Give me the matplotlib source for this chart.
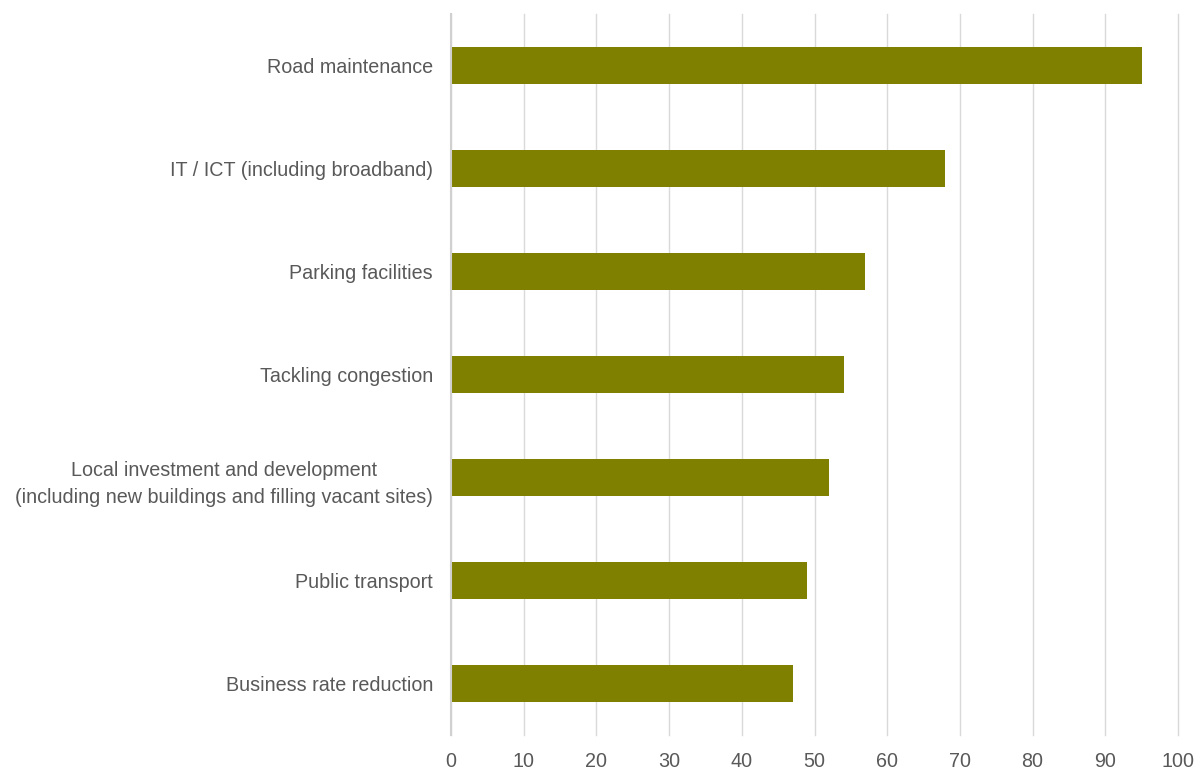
import numpy as np
import matplotlib.pyplot as plt

categories = [
    "Road maintenance",
    "IT / ICT (including broadband)",
    "Parking facilities",
    "Tackling congestion",
    "Local investment and development\n(including new buildings and filling vacant sites)",
    "Public transport",
    "Business rate reduction",
]
values = [95, 68, 57, 54, 52, 49, 47]
x_ticks = list(range(0, 101, 10))

plt.rcParams['font.family'] = ['Liberation Sans', 'DejaVu Sans']

fig = plt.figure(figsize=(11.96, 7.69), dpi=100)
ax = fig.add_axes([451 / 1196, 1 - 735 / 769, (1178 - 451) / 1196, (735 - 14) / 769])

y = np.arange(len(categories))
ax.barh(y, values, height=0.36, color="#808000", zorder=3)

ax.set_xlim(0, 100)
ax.set_ylim(len(categories) - 0.5, -0.5)
ax.set_xticks(x_ticks)
ax.set_yticks(y)
ax.set_yticklabels(categories, multialignment="center", linespacing=1.55)
ax.tick_params(axis="both", length=0, labelsize=14.2, labelcolor="#595959")
ax.tick_params(axis="y", pad=13)
ax.tick_params(axis="x", pad=12)
ax.grid(axis="x", color="#d9d9d9", linewidth=1, zorder=0)
for gl in ax.get_xgridlines():
    gl.set_clip_on(False)
for side in ["top", "right", "bottom"]:
    ax.spines[side].set_visible(False)
ax.spines["left"].set_color("#d0d0d0")
ax.spines["left"].set_linewidth(1.5)
ax.spines["left"].set_zorder(4)

plt.savefig("out.png")
